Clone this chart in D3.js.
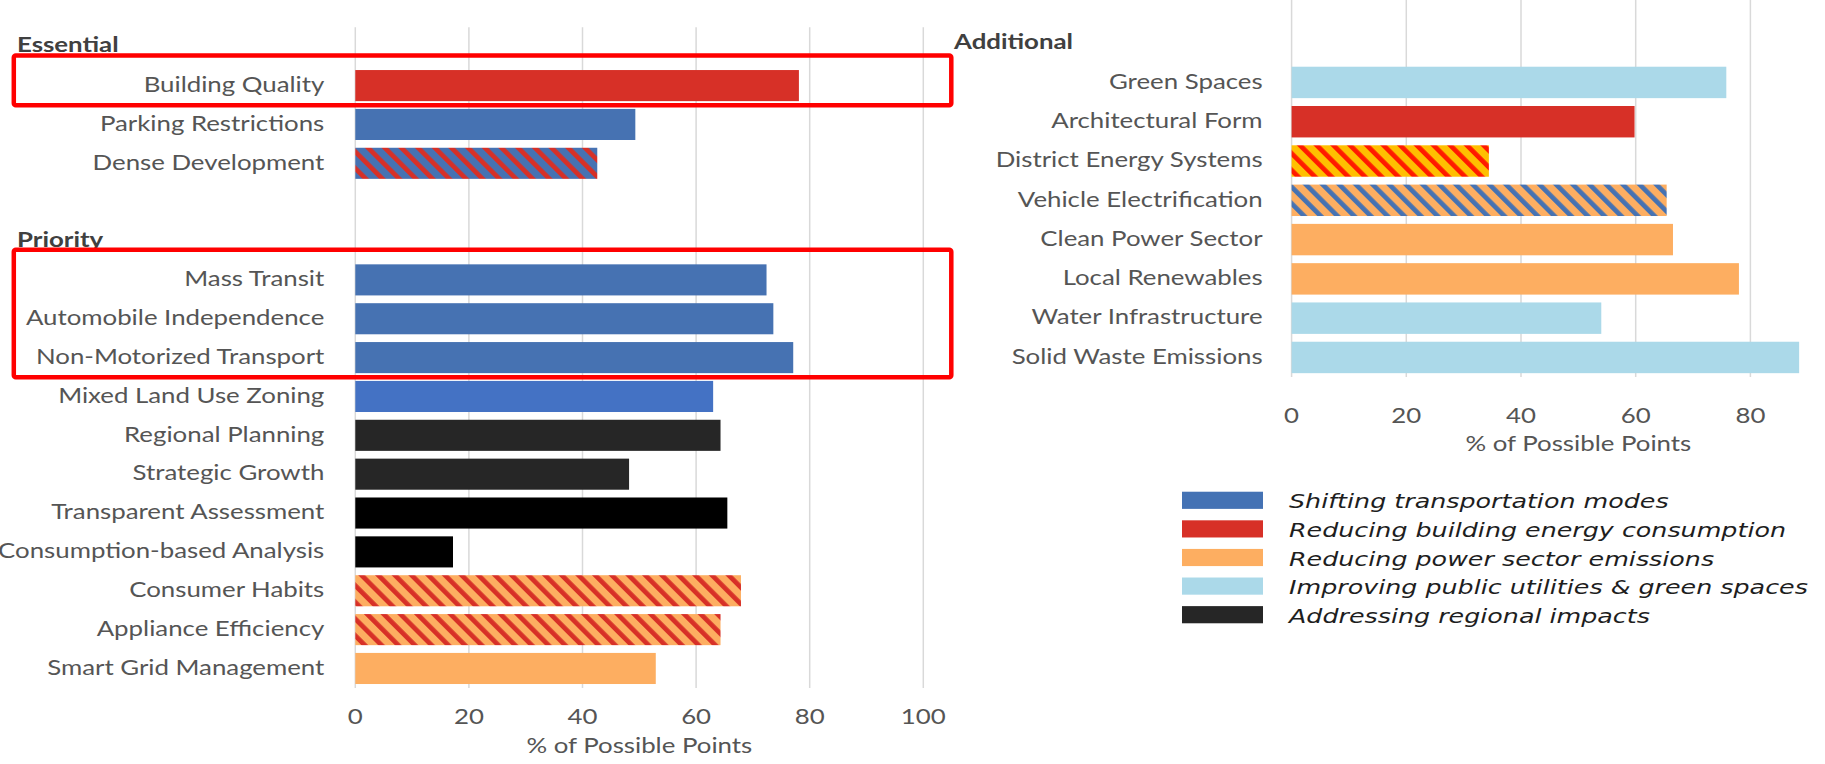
<!DOCTYPE html>
<html>
<head>
<meta charset="utf-8">
<script src="https://cdn.jsdelivr.net/npm/d3@7"></script>
<style>
  html, body { margin: 0; padding: 0; background: #ffffff; }
  svg { display: block; }
</style>
</head>
<body>
<svg id="chart" width="1825" height="764"></svg>
<script>
// ---- Data -------------------------------------------------------------
const leftCategories = [
  "Building Quality", "Parking Restrictions", "Dense Development",
  "Mass Transit", "Automobile Independence", "Non-Motorized Transport",
  "Mixed Land Use Zoning", "Regional Planning", "Strategic Growth",
  "Transparent Assessment", "Consumption-based Analysis", "Consumer Habits",
  "Appliance Efficiency", "Smart Grid Management"
];
const leftValues = [78.1, 49.3, 42.6, 72.4, 73.6, 77.1, 63.0, 64.3, 48.2, 65.5, 17.2, 67.9, 64.3, 52.9];
const leftSections = [
  "Essential", "Essential", "Essential",
  "Priority", "Priority", "Priority", "Priority", "Priority", "Priority",
  "Priority", "Priority", "Priority", "Priority", "Priority"
];
const leftThemes = [
  "building", "transport", "transport", "transport", "transport", "transport",
  "transport", "regional", "regional", "regional", "regional", "power", "power", "power"
];
const leftSecondThemes = [
  null, null, "building", null, null, null, null, null, null, null, null,
  "building", "building", null
];

const rightCategories = [
  "Green Spaces", "Architectural Form", "District Energy Systems",
  "Vehicle Electrification", "Clean Power Sector", "Local Renewables",
  "Water Infrastructure", "Solid Waste Emissions"
];
const rightValues = [75.8, 59.8, 34.4, 65.4, 66.5, 78.0, 54.0, 88.5];
const rightSections = ["Additional", "Additional", "Additional", "Additional", "Additional", "Additional", "Additional", "Additional"];
const rightThemes = ["utilities", "building", "power", "power", "power", "power", "utilities", "utilities"];
const rightSecondThemes = [null, null, "building", "transport", null, null, null, null];

const leftTicks = [0, 20, 40, 60, 80, 100];
const rightTicks = [0, 20, 40, 60, 80];
const axisTitle = "% of Possible Points";

const legendKeys = ["transport", "building", "power", "utilities", "regional"];
const legendLabels = [
  "Shifting transportation modes",
  "Reducing building energy consumption",
  "Reducing power sector emissions",
  "Improving public utilities & green spaces",
  "Addressing regional impacts"
];

const highlightedRows = [
  ["Building Quality"],
  ["Mass Transit", "Automobile Independence", "Non-Motorized Transport"]
];

// ---- Styles -----------------------------------------------------------
const themeColor = {
  transport: "#4672b2",
  building: "#d73027",
  power: "#fdae61",
  utilities: "#abd9e9",
  regional: "#262626"
};
const legendColor = { ...themeColor, transport: "#4472b4" };
const baseOverride = {
  "Mixed Land Use Zoning": "#4472c4",
  "Transparent Assessment": "#000000",
  "Consumption-based Analysis": "#000000",
  "District Energy Systems": "#ffbf00"
};
const stripeOverride = { "District Energy Systems": "#ff1a00" };

const SX = 1.23;             // horizontal stretch of the chart lettering
const SX_LEGEND = 1.30;      // horizontal stretch of the legend lettering
const labelFont = "Lato, 'Open Sans', sans-serif";
const labelSize = 21;
const labelColor = "#555555";
const headerColor = "#404040";
const gridColor = "#d9d9d9";

const svg = d3.select("#chart");
const defs = svg.append("defs");

// band slots: a header slot before each section, plus a gap slot between sections
function slotsFor(cats, sections) {
  const slots = [];
  let prev = null;
  cats.forEach((c, i) => {
    if (sections[i] !== prev) {
      if (prev !== null) slots.push("gap:" + sections[i]);
      slots.push("hdr:" + sections[i]);
      prev = sections[i];
    }
    slots.push(c);
  });
  return slots;
}

function stretched(sel, x, y, sx) {
  return sel.attr("transform", `translate(${x},${y}) scale(${sx},1)`);
}

// diagonal two-colour stripes for bars that serve two strategies
let patternCount = 0;
function hatchFill(base, stripe) {
  const id = "hatch" + (patternCount++);
  const period = 11.8;
  const p = defs.append("pattern")
    .attr("id", id)
    .attr("patternUnits", "userSpaceOnUse")
    .attr("width", period).attr("height", period)
    .attr("patternTransform", "rotate(-45)");
  p.append("rect").attr("width", period).attr("height", period).attr("fill", base);
  p.append("rect").attr("width", period * 0.4).attr("height", period).attr("fill", stripe);
  return `url(#${id})`;
}

function drawPanel(cfg) {
  const g = svg.append("g");
  const x = d3.scaleLinear([0, 100], cfg.xRange);
  const slots = slotsFor(cfg.categories, cfg.sections);
  const y = d3.scaleBand(slots, cfg.yRange).paddingInner(0.2).paddingOuter(0.1);
  const bw = y.bandwidth();

  // vertical gridlines
  g.append("g").selectAll("line")
    .data(cfg.gridTicks)
    .join("line")
    .attr("x1", d => x(d)).attr("x2", d => x(d))
    .attr("y1", cfg.gridTop).attr("y2", cfg.yRange[1])
    .attr("stroke", gridColor).attr("stroke-width", 1.5);

  // bars
  g.append("g").selectAll("rect")
    .data(cfg.categories.map((c, i) => ({ c, v: cfg.values[i], t: cfg.themes[i], s: cfg.second[i] })))
    .join("rect")
    .attr("x", x(0))
    .attr("y", d => y(d.c))
    .attr("width", d => x(d.v) - x(0))
    .attr("height", bw)
    .attr("fill", d => {
      const base = baseOverride[d.c] || themeColor[d.t];
      if (!d.s) return base;
      return hatchFill(base, stripeOverride[d.c] || themeColor[d.s]);
    });

  // category labels
  g.append("g").selectAll("text")
    .data(cfg.categories)
    .join("text")
    .each(function (d) { stretched(d3.select(this), x(0) - cfg.labelGap, y(d) + bw / 2 + 6.3, SX); })
    .attr("text-anchor", "end")
    .attr("font-family", labelFont).attr("font-size", labelSize)
    .attr("fill", labelColor)
    .text(d => d);

  // section headers
  const headers = slots.filter(s => s.startsWith("hdr:"));
  g.append("g").selectAll("text")
    .data(headers)
    .join("text")
    .each(function (d) { stretched(d3.select(this), cfg.headerX, y(d) + bw / 2 + 5.5, SX); })
    .attr("font-family", labelFont).attr("font-size", labelSize)
    .attr("font-weight", "bold")
    .attr("fill", headerColor)
    .text(d => d.slice(4));

  // x axis tick labels
  g.append("g").selectAll("text")
    .data(cfg.ticks)
    .join("text")
    .each(function (d) { stretched(d3.select(this), x(d), cfg.tickY, SX); })
    .attr("text-anchor", "middle")
    .attr("font-family", labelFont).attr("font-size", labelSize)
    .attr("fill", labelColor)
    .text(d => d);

  // axis title
  stretched(g.append("text"), (cfg.xRange[0] + cfg.xRange[1]) / 2, cfg.titleY, SX)
    .attr("text-anchor", "middle")
    .attr("font-family", labelFont).attr("font-size", labelSize)
    .attr("fill", labelColor)
    .text(axisTitle);

  return { x, y, bw };
}

const left = drawPanel({
  categories: leftCategories, values: leftValues, sections: leftSections,
  themes: leftThemes, second: leftSecondThemes,
  xRange: [355.3, 923.3], yRange: [27.3, 687.9], gridTop: 27.3,
  gridTicks: leftTicks, ticks: leftTicks,
  labelGap: 31, headerX: 17, tickY: 724, titleY: 753
});

drawPanel({
  categories: rightCategories, values: rightValues, sections: rightSections,
  themes: rightThemes, second: rightSecondThemes,
  xRange: [1291.6, 1865.1], yRange: [23.5, 377.1], gridTop: 0,
  gridTicks: rightTicks, ticks: rightTicks,
  labelGap: 29, headerX: 954, tickY: 423, titleY: 451
});

// highlight frames around selected rows
svg.append("g").selectAll("rect")
  .data(highlightedRows)
  .join("rect")
  .attr("x", 13.8)
  .attr("y", rows => left.y(rows[0]) - 14.5)
  .attr("width", left.x(100) + 28 - 13.8)
  .attr("height", rows => left.y(rows[rows.length - 1]) + left.bw + 4 - (left.y(rows[0]) - 14.5))
  .attr("rx", 2)
  .attr("fill", "none")
  .attr("stroke", "#ff0000")
  .attr("stroke-width", 4.5);

// legend
const ly = d3.scaleBand(legendKeys, [486, 629]).paddingInner(0.4).paddingOuter(0.2);
const legend = svg.append("g");
legend.selectAll("rect")
  .data(legendKeys)
  .join("rect")
  .attr("x", 1182).attr("y", d => ly(d))
  .attr("width", 81).attr("height", ly.bandwidth())
  .attr("fill", d => legendColor[d]);
legend.selectAll("text")
  .data(legendKeys)
  .join("text")
  .each(function (d) { stretched(d3.select(this), 1289, ly(d) + ly.bandwidth() / 2 + 8, SX_LEGEND); })
  .attr("font-family", "'DejaVu Sans', Verdana, sans-serif")
  .attr("font-style", "italic")
  .attr("font-size", 19.5)
  .attr("fill", "#1e1e1e")
  .text((d, i) => legendLabels[i]);
</script>
</body>
</html>
